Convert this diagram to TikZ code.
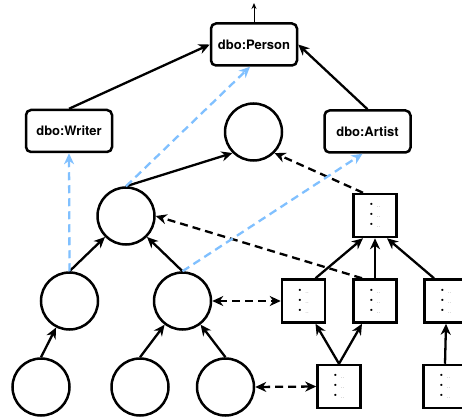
\documentclass[tikz,border=0pt]{standalone}
\usepackage{fontspec}
\setmainfont{TeX Gyre Heros}
\usetikzlibrary{arrows.meta,calc}
\definecolor{lblue}{RGB}{128,192,255}
\newcommand{\itmline}{{\fontsize{9}{10}\selectfont\textbullet}\hspace{4pt}{\color{gray!70}\fontsize{6}{6}\selectfont ..}}
\newcommand{\boxcontent}{\itmline\\\itmline\\\itmline}
\tikzset{
  circ/.style={circle, draw, line width=2.5pt, minimum size=57pt, inner sep=0pt},
  cls/.style={draw, rounded corners=5pt, line width=2.5pt, minimum width=86pt, minimum height=42pt, inner sep=0pt, font=\fontsize{13}{15}\selectfont\bfseries},
  rec/.style={draw, line width=2.5pt, minimum width=43pt, minimum height=43pt, inner sep=0pt, align=left, font=\fontsize{6}{10}\selectfont},
  tip/.style={-{Stealth[length=11pt,width=10pt,inset=3.5pt]}},
  arr/.style={line width=2.3pt, tip},
  darr/.style={arr, dash pattern=on 8pt off 5pt},
  barr/.style={darr, draw=lblue, -{Stealth[length=11pt,width=10pt,inset=3.5pt,fill=lblue]}},
  dbl/.style={line width=2.3pt, dash pattern=on 8pt off 5pt, {Stealth[length=11pt,width=10pt,inset=3.5pt]}-{Stealth[length=11pt,width=10pt,inset=3.5pt]}},
}
\begin{document}
\begin{tikzpicture}[x=1pt,y=-1pt]
\clip (0,0) rectangle (462,419);
% class nodes
\node[cls] (person) at (254,44.5) {dbo:Person};
\node[cls] (writer) at (69,131) {dbo:Writer};
\node[cls] (artist) at (367.5,131.5) {dbo:Artist};
\coordinate (up) at (254,3);
% tree circles
\node[circ] (root) at (253.5,132) {};
\node[circ] (l2) at (126,216) {};
\node[circ] (l3l) at (69.5,301) {};
\node[circ] (l3r) at (182.5,301) {};
\node[circ] (l4l) at (41,387) {};
\node[circ] (l4m) at (140,387) {};
\node[circ] (l4r) at (225.5,387) {};
% record boxes
\node[rec] (tb) at (375,215.5) {\boxcontent};
\node[rec] (mb1) at (303.5,301) {\boxcontent};
\node[rec] (mb2) at (375,301) {\boxcontent};
\node[rec] (mb3) at (446,301) {\boxcontent};
\node[rec] (bb1) at (339,386.5) {\boxcontent};
\node[rec] (bb2) at (445,386.5) {\boxcontent};
% class hierarchy
\draw[line width=1pt, -{Stealth[length=6pt,width=5pt]}] (person.north) -- (up);
\draw[arr] (writer.north) -- (person.west);
\draw[arr] (artist.north) -- (person.east);
% tree edges
\draw[arr] (l2.north) -- (root.south west);
\draw[arr] (l3l.north) -- (l2.south west);
\draw[arr] (l3r.north) -- (l2.south east);
\draw[arr] (l4l.north) -- (l3l);
\draw[arr] (l4m.north) -- (l3r);
\draw[arr] (l4r.north) -- (l3r);
% box edges
\draw[arr] ([xshift=12pt]mb1.north) -- ([xshift=-12pt]tb.south);
\draw[arr] (mb2.north) -- (tb.south);
\draw[arr] ([xshift=-12pt]mb3.north) -- ([xshift=12pt]tb.south);
\draw[arr] (bb1.north) -- ([xshift=12pt]mb1.south);
\draw[arr] (bb1.north) -- ([xshift=-13pt]mb2.south);
\draw[arr] (bb2.north) -- (mb3.south);
% dashed links
\draw[darr] ([xshift=-12pt]tb.north) -- (root.south east);
\draw[darr] ([xshift=-13pt]mb2.north) -- (l2.east);
\draw[dbl] (l3r.east) -- (mb1.west);
\draw[dbl] (l4r.east) -- (bb1.west);
% type links
\draw[barr] (l3l.north) -- (writer.south);
\draw[barr] (l2.north) -- ([xshift=-4pt]person.south);
\draw[barr] (l3r.north) -- ([xshift=-5pt]artist.south);
\end{tikzpicture}
\end{document}
